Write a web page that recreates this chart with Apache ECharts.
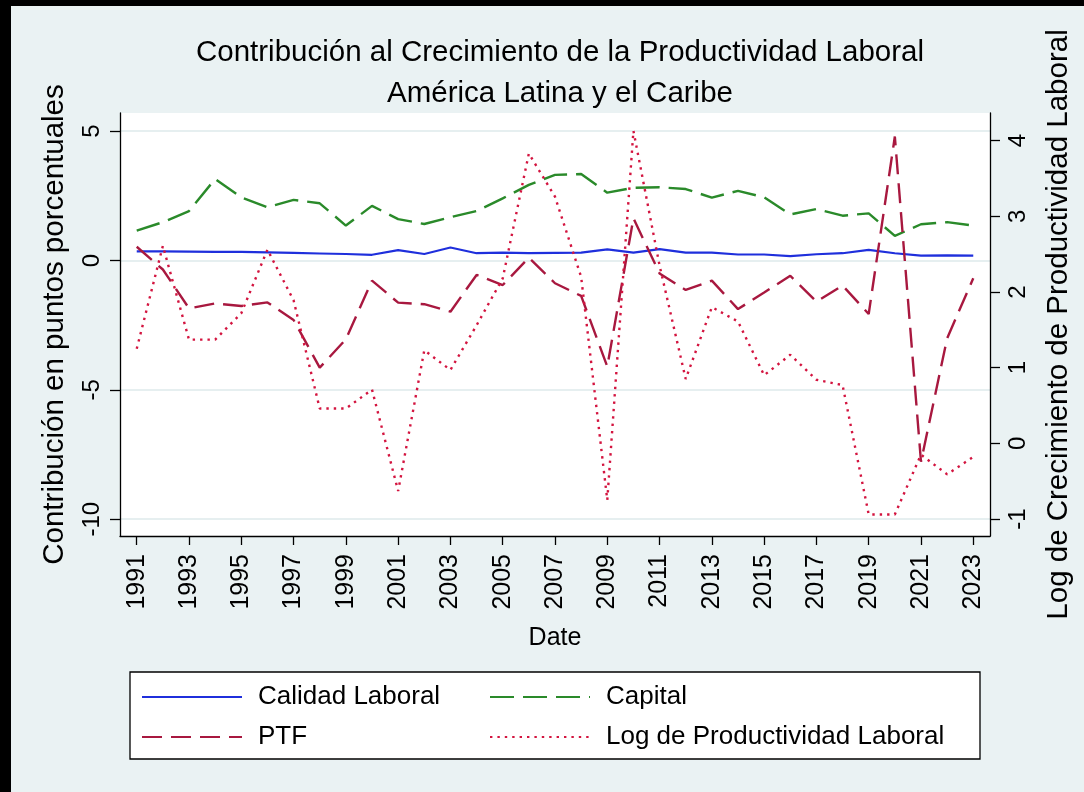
<!DOCTYPE html>
<html>
<head>
<meta charset="utf-8">
<script src="https://cdn.jsdelivr.net/npm/echarts@6/dist/echarts.min.js"></script>
<style>
  html, body { margin: 0; padding: 0; background: #eaf2f3; }
  #main { width: 1084px; height: 792px; }
</style>
</head>
<body>
<div id="main"></div>
<script>
// años
const years = [1991, 1992, 1993, 1994, 1995, 1996, 1997, 1998, 1999, 2000, 2001,
  2002, 2003, 2004, 2005, 2006, 2007, 2008, 2009, 2010, 2011, 2012, 2013,
  2014, 2015, 2016, 2017, 2018, 2019, 2020, 2021, 2022, 2023];
const yearTicks = [1991, 1993, 1995, 1997, 1999, 2001, 2003, 2005, 2007, 2009,
  2011, 2013, 2015, 2017, 2019, 2021, 2023];
const leftTicks = [-10, -5, 0, 5];
const rightTicks = [-1, 0, 1, 2, 3, 4];

// contribuciones (puntos porcentuales)
const calidadLaboral = [0.35, 0.35, 0.34, 0.33, 0.33, 0.31, 0.29, 0.27, 0.25, 0.22, 0.40,
  0.25, 0.50, 0.28, 0.30, 0.28, 0.29, 0.30, 0.43, 0.30, 0.44, 0.30, 0.30,
  0.23, 0.23, 0.17, 0.24, 0.28, 0.41, 0.28, 0.19, 0.20, 0.19];
const capital = [1.15, 1.48, 1.91, 3.15, 2.44, 2.06, 2.34, 2.21, 1.35, 2.11, 1.60,
  1.41, 1.67, 1.91, 2.40, 2.92, 3.31, 3.34, 2.62, 2.81, 2.83, 2.76, 2.43,
  2.69, 2.44, 1.78, 1.99, 1.73, 1.82, 0.95, 1.40, 1.48, 1.35];
const ptf = [0.53, -0.35, -1.85, -1.66, -1.76, -1.62, -2.30, -4.14, -3.05, -0.78, -1.63,
  -1.69, -1.98, -0.56, -0.95, 0.11, -0.88, -1.37, -4.10, 1.63, -0.50, -1.14, -0.78,
  -1.88, -1.24, -0.59, -1.59, -0.97, -2.07, 4.79, -7.78, -3.01, -0.69];
// eje derecho
const logProductividad = [1.25, 2.61, 1.37, 1.37, 1.72, 2.56, 1.89, 0.46, 0.46, 0.71, -0.63,
  1.23, 0.97, 1.56, 2.18, 3.83, 3.26, 2.20, -0.75, 4.13, 2.35, 0.85, 1.80,
  1.61, 0.90, 1.17, 0.84, 0.77, -0.94, -0.94, -0.15, -0.41, -0.18];

const FONT = "'Liberation Sans', Arial, Helvetica, sans-serif";
const pairs = arr => years.map((y, i) => [y, arr[i]]);

let myChart = echarts.init(document.getElementById('main'));
let option = {
  backgroundColor: '#eaf2f3',
  animation: false,
  textStyle: { fontFamily: FONT, color: '#000' },
  title: {
    text: 'Contribución al Crecimiento de la Productividad Laboral\nAmérica Latina y el Caribe',
    left: 555,
    top: 27,
    textAlign: 'center',
    textStyle: { fontFamily: FONT, fontSize: 29.5, fontWeight: 'normal', color: '#000', lineHeight: 41 }
  },
  grid: {
    left: 120, right: 94, top: 113, bottom: 256,
    show: true, backgroundColor: '#fff', borderWidth: 0
  },
  xAxis: {
    type: 'value',
    min: 1990.36,
    max: 2023.64,
    name: 'Date',
    nameLocation: 'middle',
    nameGap: 90,
    nameTextStyle: { fontFamily: FONT, fontSize: 25, color: '#000' },
    axisLine: { show: true, onZero: false, lineStyle: { color: '#000', width: 1.3 } },
    axisTick: { show: true, length: 9, customValues: yearTicks, lineStyle: { color: '#000', width: 1.3 } },
    axisLabel: {
      customValues: yearTicks, rotate: 90, margin: 18,
      fontFamily: FONT, fontSize: 25, color: '#000',
      formatter: v => String(v)
    },
    splitLine: { show: false }
  },
  yAxis: [
    {
      type: 'value',
      position: 'left',
      min: -10.65,
      max: 5.70,
      name: 'Contribución en puntos porcentuales',
      nameLocation: 'middle',
      nameGap: 50,
      nameTextStyle: { fontFamily: FONT, fontSize: 29.5, color: '#000' },
      axisLine: { show: true, onZero: false, lineStyle: { color: '#000', width: 1.3 } },
      axisTick: { show: true, length: 10, customValues: leftTicks, lineStyle: { color: '#000', width: 1.3 } },
      axisLabel: { customValues: leftTicks, rotate: 90, margin: 16, fontFamily: FONT, fontSize: 24, color: '#000' },
      splitLine: { show: true, lineStyle: { color: '#e6eff0', width: 2 } }
    },
    {
      type: 'value',
      position: 'right',
      min: -1.225,
      max: 4.366,
      name: 'Log de Crecimiento de Productividad Laboral',
      nameLocation: 'middle',
      nameGap: 54,
      nameTextStyle: { fontFamily: FONT, fontSize: 29.5, color: '#000' },
      axisLine: { show: true, onZero: false, lineStyle: { color: '#000', width: 1.3 } },
      axisTick: { show: true, length: 10, customValues: rightTicks, lineStyle: { color: '#000', width: 1.3 } },
      axisLabel: { customValues: rightTicks, rotate: 90, margin: 16, fontFamily: FONT, fontSize: 24, color: '#000' },
      splitLine: { show: false }
    }
  ],
  graphic: [
    // recuadro de la leyenda
    { type: 'rect', z: 1, shape: { x: 130, y: 672, width: 850, height: 87 },
      style: { fill: '#fff', stroke: '#000', lineWidth: 1.3 } },
    // borde negro
    { type: 'rect', z: 100, shape: { x: 0, y: 0, width: 1084, height: 6 }, style: { fill: '#000' } },
    { type: 'rect', z: 100, shape: { x: 0, y: 0, width: 11, height: 792 }, style: { fill: '#000' } }
  ],
  legend: [
    {
      data: ['Calidad Laboral', 'PTF'],
      orient: 'vertical', left: 141, top: 682, padding: 0,
      itemWidth: 100, itemHeight: 14, itemGap: 10,
      itemStyle: { opacity: 0 },
      textStyle: { fontFamily: FONT, fontSize: 26, color: '#000', lineHeight: 30, padding: [0, 0, 0, 11] }
    },
    {
      data: ['Capital', 'Log de Productividad Laboral'],
      orient: 'vertical', left: 489, top: 682, padding: 0,
      itemWidth: 100, itemHeight: 14, itemGap: 10,
      itemStyle: { opacity: 0 },
      textStyle: { fontFamily: FONT, fontSize: 26, color: '#000', lineHeight: 30, padding: [0, 0, 0, 11] }
    }
  ],
  series: [
    {
      name: 'Calidad Laboral', type: 'line', yAxisIndex: 0,
      data: pairs(calidadLaboral), symbol: 'none',
      lineStyle: { color: '#1f2fdc', width: 2.2, type: 'solid' },
      itemStyle: { color: '#1f2fdc' }
    },
    {
      name: 'Capital', type: 'line', yAxisIndex: 0,
      data: pairs(capital), symbol: 'none',
      lineStyle: { color: '#2a8a2a', width: 2.4, type: [24, 9] },
      itemStyle: { color: '#2a8a2a' }
    },
    {
      name: 'PTF', type: 'line', yAxisIndex: 0,
      data: pairs(ptf), symbol: 'none',
      lineStyle: { color: '#a8183f', width: 2.4, type: [20, 9] },
      itemStyle: { color: '#a8183f' }
    },
    {
      name: 'Log de Productividad Laboral', type: 'line', yAxisIndex: 1,
      data: pairs(logProductividad), symbol: 'none',
      lineStyle: { color: '#d3143f', width: 2.4, type: [2.4, 5], cap: 'butt' },
      itemStyle: { color: '#d3143f' }
    }
  ]
};
myChart.setOption(option);
</script>
</body>
</html>
